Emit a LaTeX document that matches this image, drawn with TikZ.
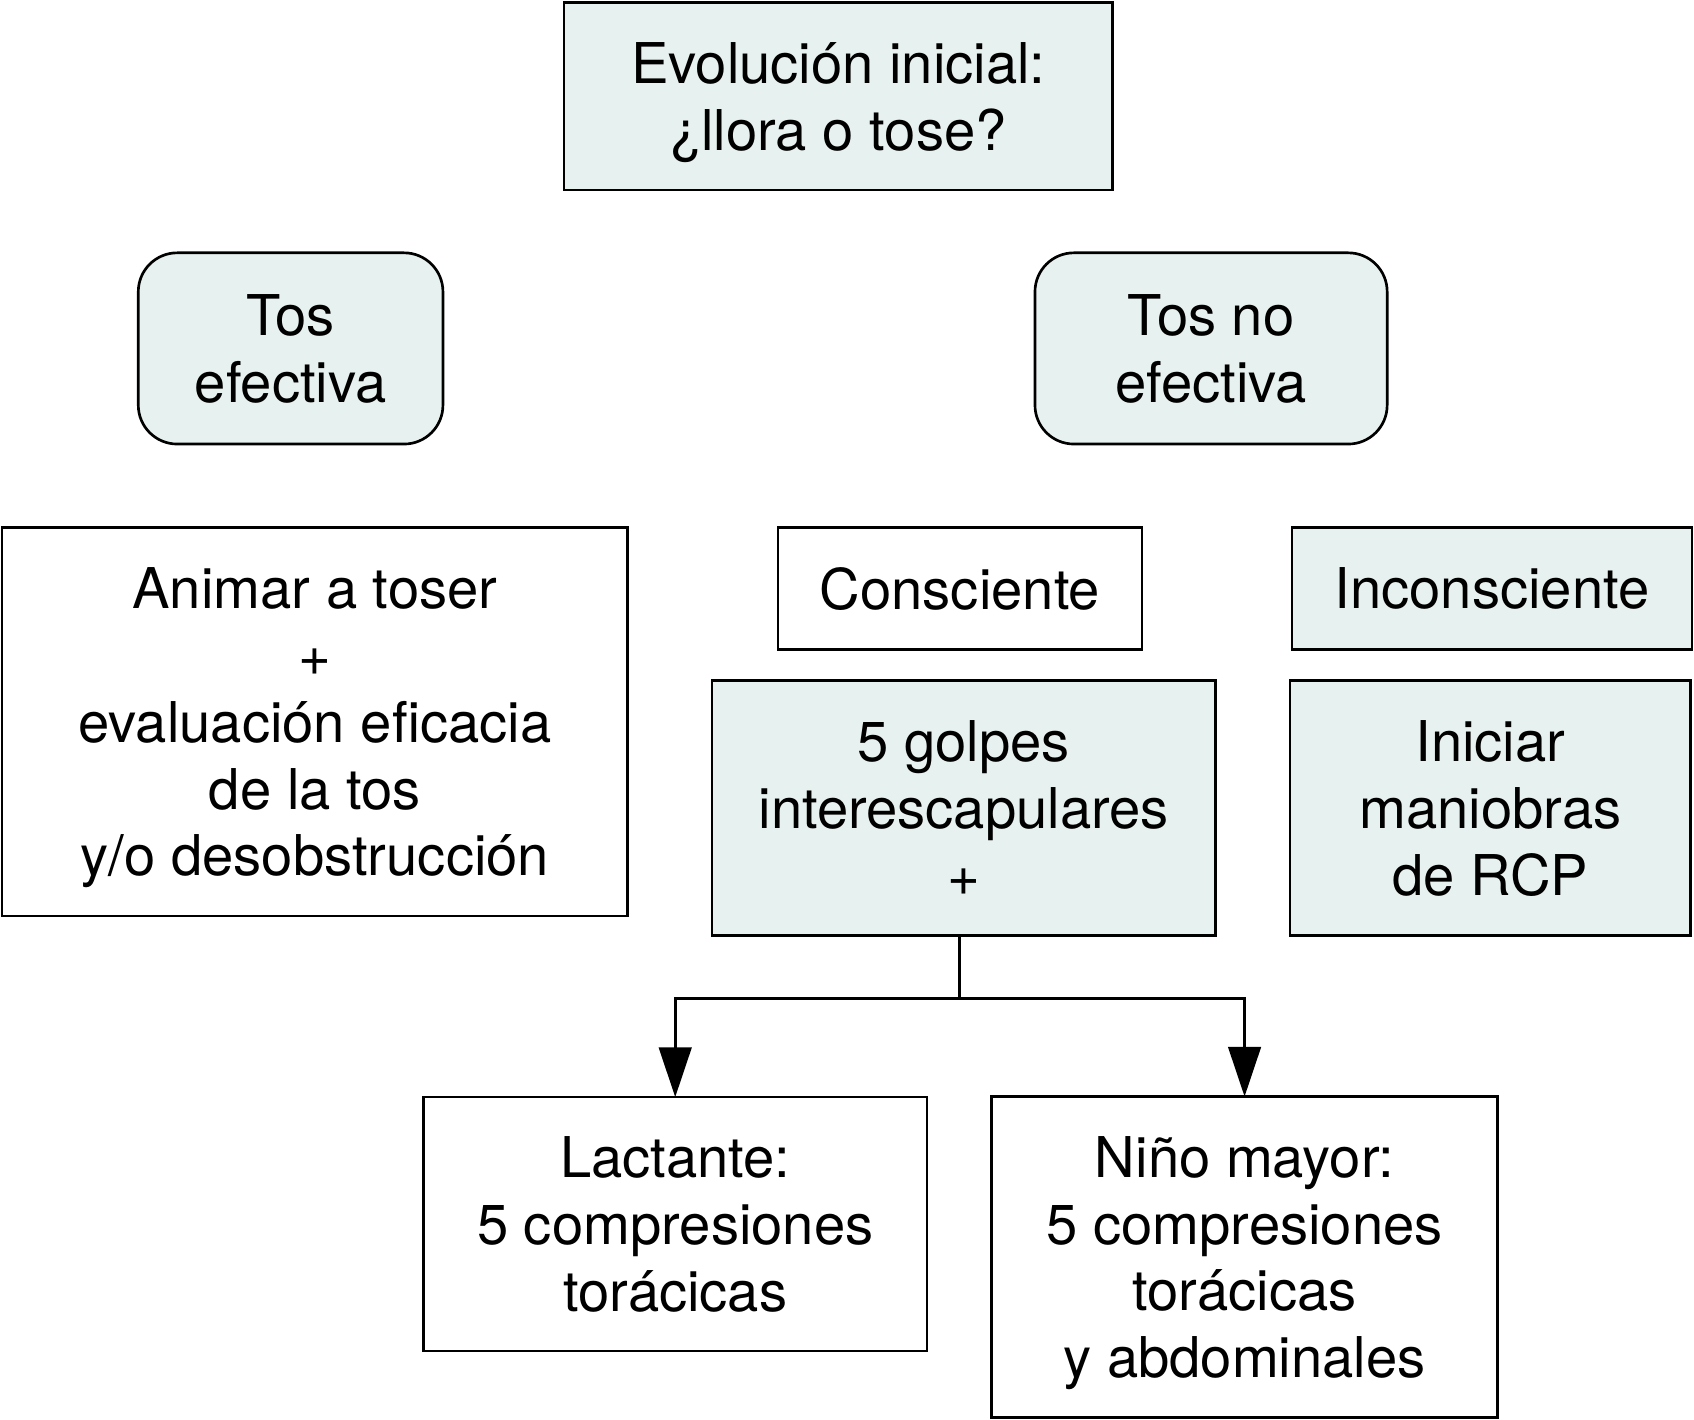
\documentclass[tikz,border=0pt]{standalone}
\usepackage{fontspec}
\setmainfont{TeX Gyre Heros}
\usetikzlibrary{arrows.meta,positioning}
\definecolor{boxfill}{HTML}{E7F1EF}

\begin{document}
\begin{tikzpicture}[
  x=0.1mm, y=-0.1mm,
  >={Triangle[length=4.6mm,width=3mm]},
  box/.style={
    draw,
    line width=0.7pt,
    align=center,
    font=\fontsize{14.8}{17.6}\selectfont,
    text depth=0pt,
    inner sep=0pt,
    outer sep=0pt
  },
  filled/.style={box, fill=boxfill},
  plain/.style={box, fill=white},
  roundbox/.style={filled, rounded corners=3.6mm},
  arr/.style={->, line width=0.85pt}
]
\useasboundingbox (0,0) rectangle (1568,1314);

\node[filled, minimum width=50.8mm, minimum height=17.4mm] (inicial) at (776,89)
{Evolución inicial:\\¿llora o tose?};

\node[roundbox, minimum width=28.2mm, minimum height=17.7mm] (efectiva) at (269,322.5)
{Tos\\efectiva};
\node[roundbox, minimum width=32.6mm, minimum height=17.7mm] (noefectiva) at (1121,322.5)
{Tos no\\efectiva};

\node[plain, minimum width=57.9mm, minimum height=36mm] (animar) at (291.5,668)
{Animar a toser\\+\\evaluación eficacia\\de la tos\\y/o desobstrucción};
\node[plain, minimum width=33.7mm, minimum height=11.3mm] (consciente) at (888.5,544.5)
{Consciente};
\node[filled, minimum width=37mm, minimum height=11.3mm] (inconsciente) at (1381,544.5)
{Inconsciente};

\node[filled, minimum width=46.6mm, minimum height=23.6mm] (golpes) at (892,748)
{5 golpes\\interescapulares\\+};
\node[filled, minimum width=37.1mm, minimum height=23.6mm] (rcp) at (1379.5,748)
{Iniciar\\maniobras\\de RCP};

\node[plain, minimum width=46.6mm, minimum height=23.5mm] (lactante) at (625,1133)
{Lactante:\\5 compresiones\\torácicas};
\node[plain, minimum width=46.8mm, minimum height=29.7mm] (nino) at (1152,1163.5)
{Niño mayor:\\5 compresiones\\torácicas\\y abdominales};

\coordinate (fork) at (888,924);
\draw[line width=0.85pt] (golpes.south -| fork) -- (fork);
\draw[arr] (fork) -| (lactante);
\draw[arr] (fork) -| (nino);
\end{tikzpicture}
\end{document}
